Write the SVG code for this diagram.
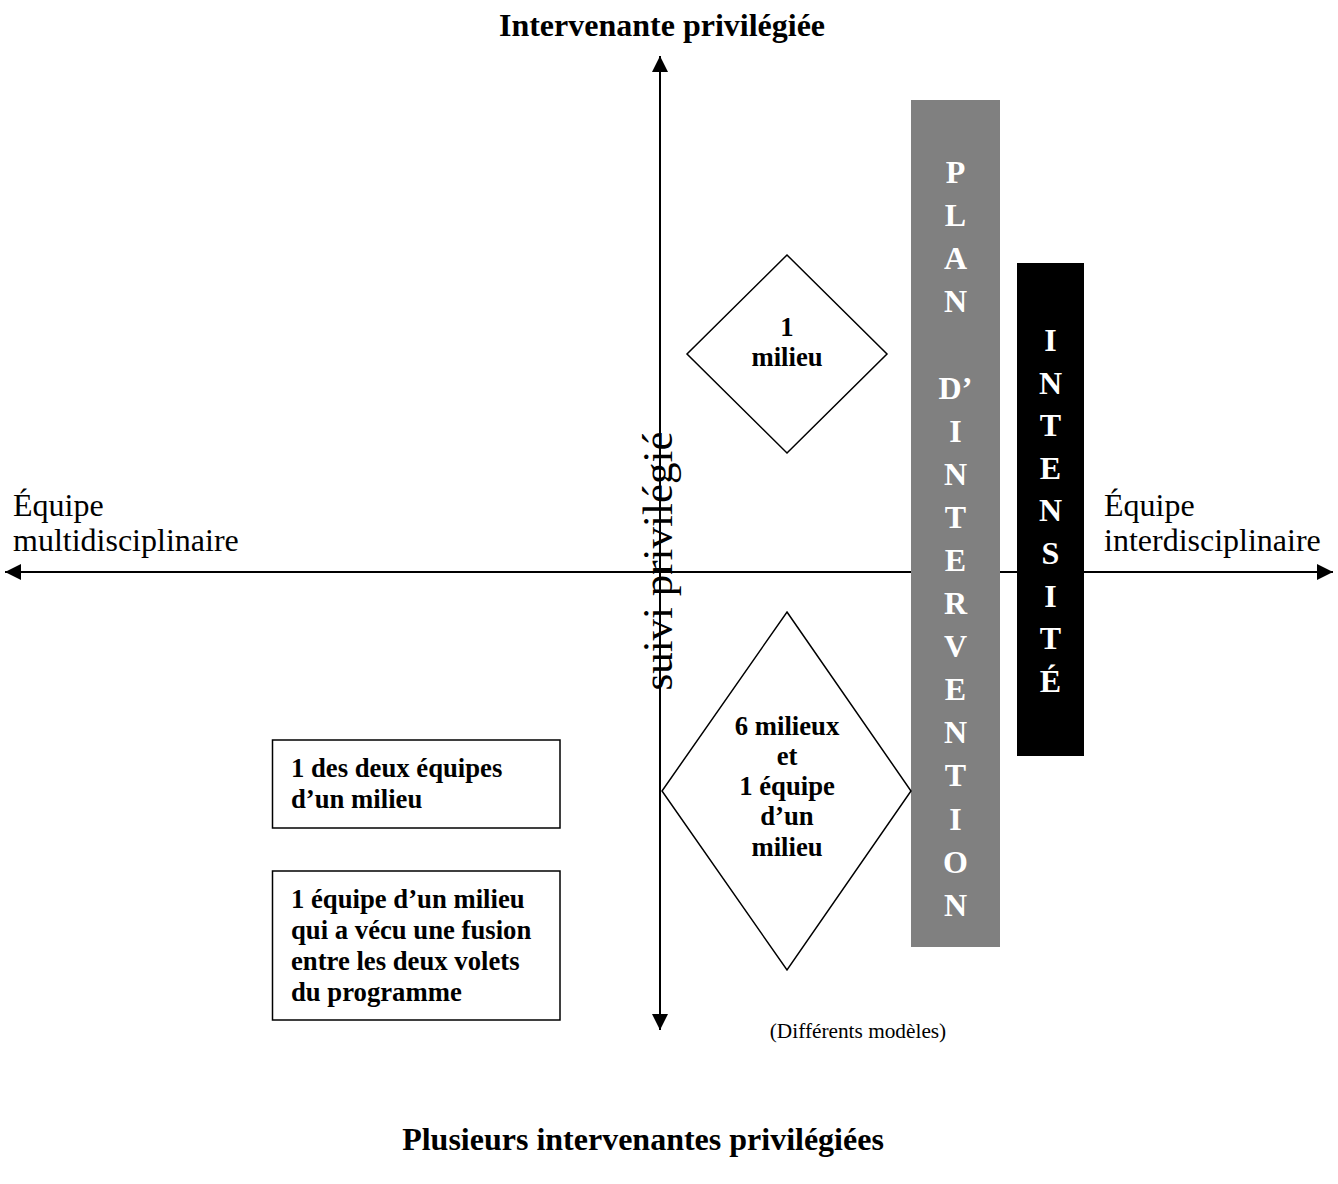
<svg xmlns="http://www.w3.org/2000/svg" width="1338" height="1184" viewBox="0 0 1338 1184">
<defs>
<marker id="ah" viewBox="0 0 10 10" refX="10" refY="5" markerWidth="16" markerHeight="16" markerUnits="userSpaceOnUse" orient="auto">
<path d="M0,0 L10,5 L0,10 z" fill="#000"/>
</marker>
</defs>
<style>
.t{font-family:"Liberation Serif","Times New Roman",serif;fill:#000}
.b{font-weight:bold}
.big{font-size:32px}
.med{font-size:26.7px}
.sm{font-size:21.3px}
.ax{stroke:#000;stroke-width:2;fill:none}
.shape{fill:#fff;stroke:#000;stroke-width:1.5}
.bar{font-family:"Liberation Serif","Times New Roman",serif;font-weight:bold;font-size:32px;fill:#fff;text-anchor:middle}
</style>
<rect width="1338" height="1184" fill="#fff"/>
<g id="connectors">
<line class="ax" x1="660" y1="1030" x2="660" y2="56" marker-end="url(#ah)"/>
<line class="ax" x1="660" y1="572" x2="660" y2="1030" marker-end="url(#ah)"/>
<line class="ax" x1="660" y1="572" x2="5" y2="572" marker-end="url(#ah)"/>
<line class="ax" x1="660" y1="572" x2="1333" y2="572" marker-end="url(#ah)"/>
</g>
<g id="title-top"><text class="t b big" x="662" y="36" text-anchor="middle">Intervenante privilégiée</text></g>
<g id="title-bottom"><text class="t b big" x="643" y="1150" text-anchor="middle">Plusieurs intervenantes privilégiées</text></g>
<g id="label-left"><text class="t big" x="13" y="516">Équipe</text><text class="t big" x="13" y="551">multidisciplinaire</text></g>
<g id="label-right"><text class="t big" x="1104" y="516">Équipe</text><text class="t big" x="1104" y="551">interdisciplinaire</text></g>
<g id="label-suivi"><text class="t" font-size="43" transform="translate(672,561) rotate(-90)" text-anchor="middle">suivi privilégié</text></g>
<g id="plan-bar">
<rect x="911" y="100" width="89" height="847" fill="#808080"/>
<text class="bar"><tspan x="955.5" y="183">P</tspan><tspan x="955.5" y="226">L</tspan><tspan x="955.5" y="269">A</tspan><tspan x="955.5" y="312">N</tspan><tspan x="955.5" y="398.5">D’</tspan><tspan x="955.5" y="441.6">I</tspan><tspan x="955.5" y="484.7">N</tspan><tspan x="955.5" y="527.8">T</tspan><tspan x="955.5" y="570.9">E</tspan><tspan x="955.5" y="614">R</tspan><tspan x="955.5" y="657.1">V</tspan><tspan x="955.5" y="700.2">E</tspan><tspan x="955.5" y="743.3">N</tspan><tspan x="955.5" y="786.4">T</tspan><tspan x="955.5" y="829.5">I</tspan><tspan x="955.5" y="872.6">O</tspan><tspan x="955.5" y="916">N</tspan></text>
</g>
<g id="intensite-bar">
<rect x="1017" y="263" width="67" height="493" fill="#000"/>
<text class="bar"><tspan x="1050.5" y="351">I</tspan><tspan x="1050.5" y="393.6">N</tspan><tspan x="1050.5" y="436.2">T</tspan><tspan x="1050.5" y="478.8">E</tspan><tspan x="1050.5" y="521.4">N</tspan><tspan x="1050.5" y="564">S</tspan><tspan x="1050.5" y="606.6">I</tspan><tspan x="1050.5" y="649.2">T</tspan><tspan x="1050.5" y="691.8">É</tspan></text>
</g>
<g id="diamond-1">
<polygon class="shape" points="787,255 887,354 787,453 687,354"/>
<text class="t b med" text-anchor="middle"><tspan x="787" y="336">1</tspan><tspan x="787" y="366">milieu</tspan></text>
</g>
<g id="diamond-2">
<polygon class="shape" points="787,612 911,791 787,970 662,791"/>
<text class="t b med" text-anchor="middle"><tspan x="787" y="735">6 milieux</tspan><tspan x="787" y="765">et</tspan><tspan x="787" y="795">1 équipe</tspan><tspan x="787" y="825">d’un</tspan><tspan x="787" y="856">milieu</tspan></text>
</g>
<g id="box-1">
<rect class="shape" x="272.5" y="740" width="287.5" height="88"/>
<text class="t b med"><tspan x="291" y="777">1 des deux équipes</tspan><tspan x="291" y="808">d’un milieu</tspan></text>
</g>
<g id="box-2">
<rect class="shape" x="272.5" y="871" width="287.5" height="149"/>
<text class="t b med"><tspan x="291" y="908">1 équipe d’un milieu</tspan><tspan x="291" y="939">qui a vécu une fusion</tspan><tspan x="291" y="970">entre les deux volets</tspan><tspan x="291" y="1001">du programme</tspan></text>
</g>
<g id="note"><text class="t sm" x="858" y="1038" text-anchor="middle">(Différents modèles)</text></g>
</svg>
